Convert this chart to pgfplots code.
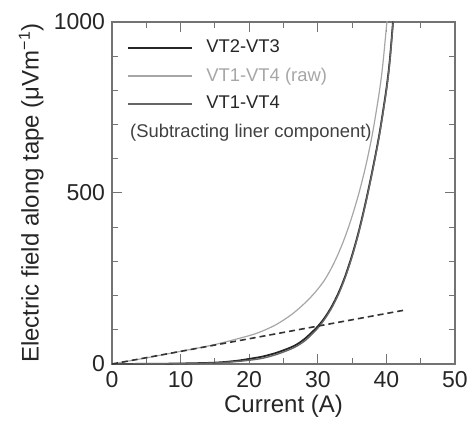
\documentclass[border=0pt]{standalone}
\usepackage{pgfplots}
\pgfplotsset{compat=1.18}
\usepackage{fontspec}
\setmainfont{Liberation Sans}

\pgfplotstableread{
I E
0 0
5 0.5
10 1.5
15 4
18 9
20 15
22 22
24 33
26 48
27 58
28 72
29 90
30 110
31 135
32 167
33 207
34 257
35 318
36 390
37 475
38 570
39 675
40 805
40.5 890
41 1010
}\vtbc

\pgfplotstableread{
I E
0 0
5 0.3
10 1
15 3
18 7
20 11
22 17
24 28
26 43
27 53
28 66
29 84
30 105
31 131
32 163
33 203
34 253
35 314
36 386
37 471
38 566
39 671
40 800
40.5 885
41 1005
}\vtad

\pgfplotstableread{
I E
0 0
5 18
10 37
15 57
20 83
22 97
24 116
26 142
27 158
28 176
29 196
30 219
31 246
32 281
33 323
34 373
35 432
36 500
37 580
38 677
39 800
39.5 880
40 985
40.2 1020
}\vtraw

\pgfplotstableread{
I E
0 0
42.5 157
}\lin

\begin{document}
\begin{tikzpicture}
\begin{axis}[
  width=171.5pt, height=171pt, scale only axis,
  xmin=0, xmax=50, ymin=0, ymax=1000,
  xtick={0,10,...,50}, minor xtick={5,15,...,45},
  ytick={0,500,1000}, minor ytick={100,200,300,400,600,700,800,900},
  tick align=inside, major tick length=5pt, minor tick length=3pt,
  axis line style={draw=black!55, line width=0.6pt},
  tick style={draw=black!55, line width=0.5pt},
  tick label style={font=\fontsize{11.5}{13}\selectfont, text=black!85},
  /pgf/number format/assume math mode=true,
  scaled ticks=false,
  /pgf/number format/1000 sep={},
  xlabel={Current (A)},
  ylabel={Electric field along tape (μVm\textsuperscript{−1})},
  label style={font=\fontsize{12}{14}\selectfont, text=black!85},
  xlabel style={yshift=3pt},
  ylabel style={at={(axis description cs:-0.198,0.5)}, anchor=south, inner sep=0pt},
  legend style={draw=none, fill=none, at={(0.044,0.96)}, anchor=north west,
    font=\fontsize{9.2}{11}\selectfont, row sep=2pt, inner sep=0pt},
  legend cell align=left,
  legend image code/.code={\draw[#1] (0pt,0pt) -- (32pt,0pt); \path (36.5pt,0pt);},
]
\addplot[black!85, line width=0.9pt, smooth] table[x=I,y=E] {\vtbc};
\addlegendentry{\textcolor{black!85}{VT2-VT3}}
\addplot[black!35, line width=0.6pt, smooth] table[x=I,y=E] {\vtraw};
\addlegendentry{\textcolor{black!35}{VT1-VT4 (raw)}}
\addplot[black!60, line width=0.7pt, smooth] table[x=I,y=E] {\vtad};
\addlegendentry{\textcolor{black!85}{VT1-VT4}}
\addplot[black!80, line width=0.8pt, dash pattern=on 3pt off 2pt, forget plot] table[x=I,y=E] {\lin};
\node[anchor=west, inner sep=0pt, font=\fontsize{9.2}{11}\selectfont, text=black!75]
  at (rel axis cs:0.052,0.675) {(Subtracting liner component)};
\coordinate (bl) at (rel axis cs:0,0);
\coordinate (tr) at (rel axis cs:1,1);
\end{axis}
\pgfresetboundingbox
\useasboundingbox ([xshift=-56pt,yshift=-31.5pt]bl) rectangle ([xshift=9pt,yshift=11pt]tr);
\end{tikzpicture}
\end{document}
